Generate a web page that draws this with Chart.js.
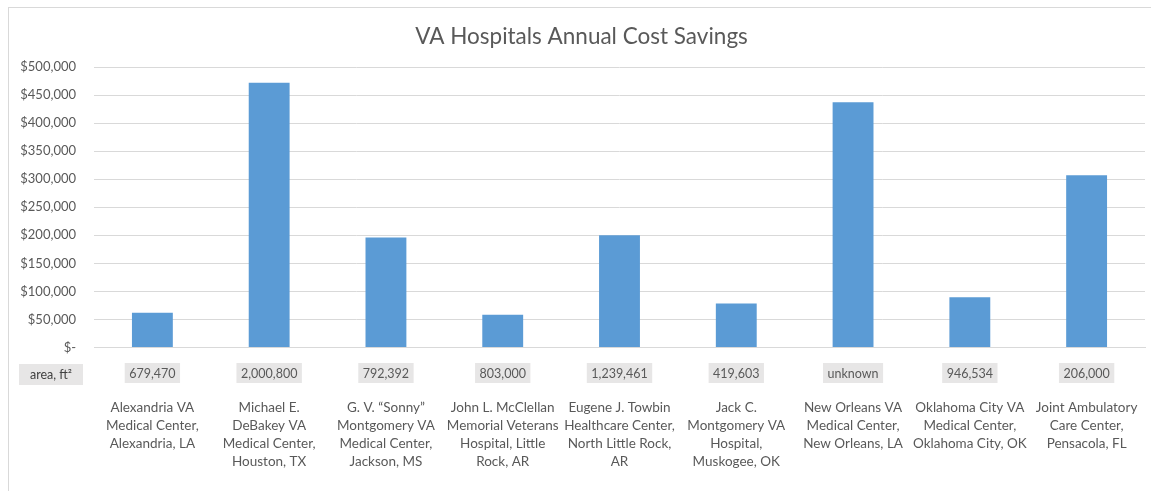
<!DOCTYPE html>
<html>
<head>
<meta charset="utf-8">
<script src="https://cdn.jsdelivr.net/npm/chart.js@4/dist/chart.umd.min.js"></script>
<style>
  html, body { margin: 0; padding: 0; background: #fff; overflow: hidden; }
  #wrap { position: relative; width: 1151px; height: 491px; overflow: hidden; }
  #frame {
    position: absolute; left: 8px; top: 7px; width: 1160px; height: 500px;
    border: 1px solid #d9d9d9; box-sizing: border-box;
  }
  #Savings { position: absolute; left: 0; top: 0; }
</style>
</head>
<body>
<div id="wrap">
  <div id="frame"></div>
  <canvas id="Savings" width="1151" height="491"></canvas>
</div>
<script>
// Hospitais (categorias)
const hospitais = [
  ["Alexandria VA", "Medical Center,", "Alexandria, LA"],
  ["Michael E.", "DeBakey VA", "Medical Center,", "Houston, TX"],
  ["G. V. \u201CSonny\u201D", "Montgomery VA", "Medical Center,", "Jackson, MS"],
  ["John L. McClellan", "Memorial Veterans", "Hospital, Little", "Rock, AR"],
  ["Eugene J. Towbin", "Healthcare Center,", "North Little Rock,", "AR"],
  ["Jack C.", "Montgomery VA", "Hospital,", "Muskogee, OK"],
  ["New Orleans VA", "Medical Center,", "New Orleans, LA"],
  ["Oklahoma City VA", "Medical Center,", "Oklahoma City, OK"],
  ["Joint Ambulatory", "Care Center,", "Pensacola, FL"],
];

// Economia anual ($)
const economia = [62000, 472000, 196000, 58500, 200000, 78500, 437000, 89500, 307000];

// Area (ft²) de cada hospital
const areas = ["679,470", "2,000,800", "792,392", "803,000", "1,239,461", "419,603", "unknown", "946,534", "206,000"];

const fonte = "Lato, 'Open Sans', sans-serif";
const cinza = "#595959";

// Plugin: caixas de area abaixo do eixo
const caixasArea = {
  id: "caixasArea",
  afterDraw(chart) {
    const c = chart.ctx;
    const x = chart.scales.x;
    const topo = 363;
    const alt = 20;
    c.save();
    c.font = "12.5px " + fonte;
    c.textAlign = "center";
    c.textBaseline = "middle";

    // rotulo da linha
    c.fillStyle = "#e7e6e6";
    c.fillRect(19, topo + 1, 64, 21);
    c.fillStyle = "#404040";
    c.fillText("area, ft\u00B2", 51, topo + 11.5);

    areas.forEach((a, i) => {
      const cx = x.getPixelForValue(i);
      const w = c.measureText(a).width + 9;
      c.fillStyle = "#e7e6e6";
      c.fillRect(cx - w / 2, topo, w, alt);
      c.fillStyle = cinza;
      c.fillText(a, cx, topo + alt / 2 + 0.5);
    });
    c.restore();
  },
};

const ctx = document.getElementById("Savings").getContext("2d");

new Chart(ctx, {
  type: "bar",
  data: {
    labels: hospitais,
    datasets: [
      {
        label: "Economia",
        data: economia,
        backgroundColor: "#5b9bd5",
        borderWidth: 0,
        categoryPercentage: 1,
        barPercentage: 0.35,
      },
    ],
  },
  options: {
    responsive: false,
    animation: false,
    layout: { padding: { left: 18, right: 6, top: 0, bottom: 0 } },
    plugins: {
      legend: { display: false },
      tooltip: { enabled: false },
      title: {
        display: true,
        text: "VA Hospitals Annual Cost Savings",
        color: cinza,
        font: { family: fonte, size: 22.5, weight: "normal", lineHeight: 1.2 },
        padding: { top: 23, bottom: 17 },
      },
    },
    scales: {
      y: {
        min: 0,
        max: 500000,
        afterFit(scale) {
          scale.width = 76;
        },
        ticks: {
          stepSize: 50000,
          color: cinza,
          padding: 18,
          font: { family: fonte, size: 13 },
          callback: (v) => (v === 0 ? "$-" : "$" + v.toLocaleString("en-US")),
        },
        grid: { color: "#d9d9d9", lineWidth: 1, drawTicks: false },
        border: { display: false },
      },
      x: {
        afterFit(scale) {
          scale.height = 143.5;
          scale.paddingLeft = 0;
          scale.paddingRight = 0;
        },
        ticks: {
          color: cinza,
          padding: 51,
          autoSkip: false,
          maxRotation: 0,
          font: { family: fonte, size: 13.5, lineHeight: "18px" },
        },
        grid: { display: false, drawTicks: false },
        border: { color: "#d9d9d9" },
      },
    },
  },
  plugins: [caixasArea],
});
</script>
</body>
</html>
